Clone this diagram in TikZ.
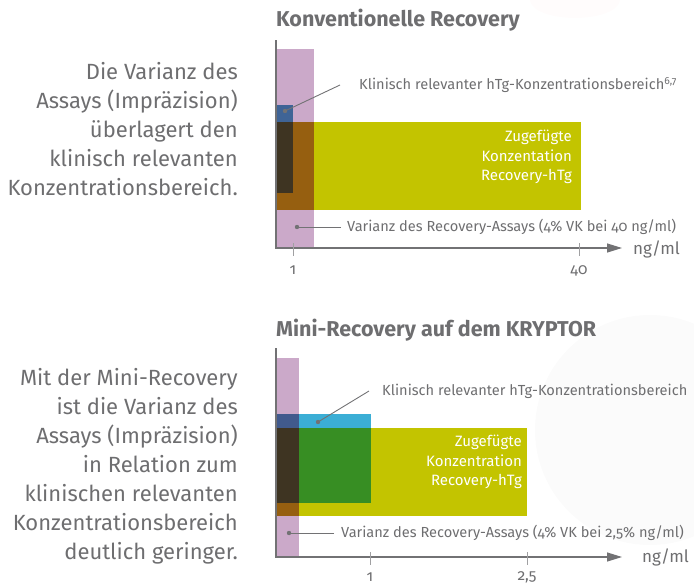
\documentclass[tikz,border=0pt]{standalone}
\usepackage{fontspec}
\setmainfont{Fira Sans}[Numbers=OldStyle]
\usetikzlibrary{arrows.meta}
\definecolor{txt}{HTML}{6E6E70}
\definecolor{axisc}{HTML}{727274}
\definecolor{tickc}{HTML}{A0A0A2}
\definecolor{pinkbar}{HTML}{CBA9C9}
\definecolor{bluedark}{HTML}{3F6496}
\definecolor{bluedarkb}{HTML}{415A8D}
\definecolor{darkc}{HTML}{3E3422}
\definecolor{brownc}{HTML}{965F10}
\definecolor{olive}{HTML}{C3C400}
\definecolor{cyanc}{HTML}{3BAED5}
\definecolor{greenc}{HTML}{378E23}
\begin{document}
\begin{tikzpicture}[x=1pt,y=-1pt,
  lbl/.style={font=\fontsize{14.6}{17}\selectfont, text=txt, inner sep=0pt, anchor=west},
  side/.style={font=\fontsize{22}{29}\selectfont, text=txt, inner sep=0pt, align=right, anchor=east},
  inner/.style={font=\fontsize{15}{19.5}\selectfont, text=white, inner sep=0pt, align=right, anchor=east},
  title/.style={font=\fontsize{21.5}{24}\selectfont\bfseries, text=txt, inner sep=0pt, anchor=west},
  unit/.style={font=\fontsize{17}{20}\selectfont, text=txt, inner sep=0pt, anchor=west},
  ticklbl/.style={font=\fontsize{15.5}{17}\selectfont, text=txt, inner sep=0pt},
  axis/.style={draw=axisc, line width=1.2pt, -{Triangle[length=15pt,width=9pt]}},
  tickl/.style={draw=tickc, line width=1pt},
  leader/.style={draw=axisc, line width=0.9pt},
  dotm/.style={fill=axisc}]
\useasboundingbox (0,0) rectangle (694,584);
% faint background
\fill[black, opacity=0.015] (650,430) circle (115);
\fill[pink, opacity=0.04] (575,0) ellipse (45 and 18);

% ---------- top chart ----------
\node[title] (t1) at (276,20) {Konventionelle Recovery};
\fill[pinkbar] (277,49) rectangle (314,248);
\fill[olive] (277,122) rectangle (581,210);
\fill[brownc] (277,122) rectangle (314,210);
\fill[bluedark] (277,105) rectangle (293,122);
\fill[darkc] (277,122) rectangle (293,193);
\draw[axis] (276,40) -- (276,248) -- (622,248);
\draw[tickl] (293,243) -- (293,256);
\draw[tickl] (579,243) -- (579,256);
\node[ticklbl] (x1a) at (293,270) {1};
\node[ticklbl] (x1b) at (579,271) {40};
\node[unit] (u1) at (633,249) {ng/ml};
\node[inner] (in1) at (572,157) {Zugefügte\\Konzentation\\Recovery-hTg};
\node[lbl] (k1) at (359,85) {Klinisch relevanter hTg-Konzentrationsbereich\textsuperscript{6,7}};
\coordinate (k1e) at (340,85);
\coordinate (k1d) at (285,111);
\draw[leader] (k1e) -- (k1d);
\fill[dotm] (k1d) circle (2.2);
\node[lbl] (v1) at (347,227) {Varianz des Recovery-Assays (4\% VK bei 40 ng/ml)};
\coordinate (v1e) at (341,227);
\coordinate (v1d) at (297,227);
\draw[leader] (v1e) -- (v1d);
\fill[dotm] (v1d) circle (2.2);
\node[side] (s1) at (238,129) {Die Varianz des\\Assays (Impräzision)\\überlagert den\\klinisch relevanten\\Konzentrationsbereich.};

% ---------- bottom chart ----------
\node[title] (t2) at (276,330) {Mini-Recovery auf dem KRYPTOR};
\fill[pinkbar] (277,358) rectangle (299,557);
\fill[olive] (277,428) rectangle (527,516);
\fill[cyanc] (299,414) rectangle (371,428);
\fill[greenc] (299,428) rectangle (371,503);
\fill[bluedarkb] (277,414) rectangle (299,428);
\fill[darkc] (277,428) rectangle (299,503);
\fill[brownc] (277,503) rectangle (299,516);
\draw[axis] (276,348) -- (276,557) -- (622,557);
\draw[tickl] (370,552) -- (370,565);
\draw[tickl] (527,552) -- (527,565);
\node[ticklbl] (x2a) at (370,577) {1};
\node[ticklbl] (x2b) at (527,577) {2,5};
\node[unit] (u2) at (642,557) {ng/ml};
\node[inner] (in2) at (522,462) {Zugefügte\\Konzentration\\Recovery-hTg};
\node[lbl] (k2) at (382,391) {Klinisch relevanter hTg-Konzentrationsbereich};
\coordinate (k2e) at (369,391);
\coordinate (k2d) at (318,422);
\draw[leader] (k2e) -- (k2d);
\fill[dotm] (k2d) circle (2.2);
\node[lbl] (v2) at (341,533) {Varianz des Recovery-Assays (4\% VK bei 2,5\% ng/ml)};
\coordinate (v2e) at (334,533);
\coordinate (v2d) at (289,533);
\draw[leader] (v2e) -- (v2d);
\fill[dotm] (v2d) circle (2.2);
\node[side] (s2) at (238,466) {Mit der Mini-Recovery\\ist die Varianz des\\Assays (Impräzision)\\in Relation zum\\klinischen relevanten\\Konzentrationsbereich\\deutlich geringer.};
\end{tikzpicture}
\end{document}
